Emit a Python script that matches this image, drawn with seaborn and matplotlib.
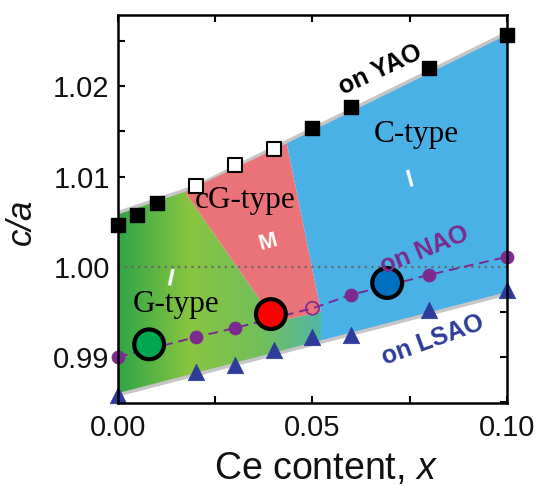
import numpy as np
import pandas as pd
import matplotlib
matplotlib.use("Agg")
import matplotlib.pyplot as plt
import seaborn as sns
from matplotlib.colors import LinearSegmentedColormap
from matplotlib.patches import Polygon
from matplotlib.ticker import MultipleLocator, FormatStrFormatter

# data
x_yao = [0, 0.005, 0.01, 0.05, 0.06, 0.08, 0.10]
ca_yao = [1.0046, 1.0057, 1.0071, 1.0154, 1.0177, 1.0220, 1.0257]
x_yao_open = [0.02, 0.03, 0.04]
ca_yao_open = [1.0089, 1.0113, 1.0131]

x_nao = [0, 0.02, 0.03, 0.04, 0.06, 0.08, 0.10]
ca_nao = [0.9900, 0.9922, 0.9932, 0.9943, 0.9969, 0.9991, 1.0011]
x_nao_open = [0.05]
ca_nao_open = [0.9954]

x_lsao = [0, 0.02, 0.03, 0.04, 0.05, 0.06, 0.08, 0.10]
ca_lsao = [0.9858, 0.9883, 0.9891, 0.9908, 0.9922, 0.9924, 0.9952, 0.9974]

# highlighted samples
sample_names = ["G", "cG", "C"]
x_sample = [0.0080, 0.0393, 0.0692]
ca_sample = [0.9914, 0.99475, 0.9982]
sample_colors = {"G": "#00a650", "cG": "#ff0000", "C": "#0070c0"}

# phase region boundaries
upper_x = [0, 0.02, 0.10]
upper_ca = [1.0058, 1.0087, 1.0257]
lower_x = [0, 0.10]
lower_ca = [0.9860, 0.9972]

sns.set_style("ticks")
plt.rcParams["font.family"] = ["Liberation Sans", "DejaVu Sans"]
plt.rcParams["mathtext.fontset"] = "custom"
plt.rcParams["mathtext.it"] = "Liberation Sans:italic"
plt.rcParams["mathtext.rm"] = "Liberation Sans"
plt.rcParams["text.color"] = "black"

purple = "#7b2b8d"
navy = "#2e3b9a"

fig, ax = plt.subplots(figsize=(5.37, 4.86), dpi=100)
fig.subplots_adjust(left=0.2197, right=0.9441, top=0.9691, bottom=0.1708)

up = lambda x: np.interp(x, upper_x, upper_ca)
lo = lambda x: np.interp(x, lower_x, lower_ca)

# regions
gm_top, gm_bot = (0.0172, up(0.0172)), (0.0404, 0.9939)
mc_top, mc_bot = (0.0434, up(0.0434)), (0.0522, 0.9950)

green_verts = [(0, lo(0)), (0, up(0)), gm_top, gm_bot, mc_bot, (mc_bot[0], lo(mc_bot[0]))]
red_verts = [gm_top, mc_top, mc_bot, gm_bot]
blue_verts = [mc_top, (0.10, up(0.10)), (0.10, lo(0.10)), (mc_bot[0], lo(mc_bot[0])), mc_bot]

green_poly = Polygon(green_verts, closed=True, facecolor="none", edgecolor="none")
ax.add_patch(green_poly)
gcmap = LinearSegmentedColormap.from_list(
    "g", [(0, "#2fa548"), (0.35, "#88c540"), (0.7, "#72bf5a"), (1.0, "#52b6a6")])
im = ax.imshow(np.linspace(0, 1, 256).reshape(1, -1), extent=[0, mc_bot[0], 0.985, 1.01],
               aspect="auto", cmap=gcmap, origin="lower", zorder=1)
im.set_clip_path(green_poly)
ax.add_patch(Polygon(red_verts, closed=True, facecolor="#ea7379", edgecolor="none", zorder=1))
ax.add_patch(Polygon(blue_verts, closed=True, facecolor="#49b1e5", edgecolor="none", zorder=1))

# grey edges
sns.lineplot(x=upper_x, y=upper_ca, color="#c6c6c6", lw=5, ax=ax, zorder=0.5)
sns.lineplot(x=lower_x, y=lower_ca, color="#c6c6c6", lw=5, ax=ax, zorder=0.5)

ax.axhline(1.0, color="#6a6a6a", ls=(0, (1, 2)), lw=1.6, zorder=2)

# NAO dashed line
nao = pd.DataFrame({"x": x_nao + x_nao_open, "ca": ca_nao + ca_nao_open}).sort_values("x")
sns.lineplot(data=nao, x="x", y="ca", color=purple, lw=1.4, ls=(0, (5, 3)), ax=ax, zorder=3)

sns.scatterplot(x=x_yao, y=ca_yao, marker="s", s=115, color="black", edgecolor="black",
                linewidth=1, ax=ax, zorder=4, clip_on=False)
sns.scatterplot(x=x_yao_open, y=ca_yao_open, marker="s", s=110, color="white", edgecolor="black",
                linewidth=1.5, ax=ax, zorder=4, clip_on=False)
sns.scatterplot(x=x_nao, y=ca_nao, marker="o", s=88, color=purple, edgecolor=purple,
                linewidth=0.5, ax=ax, zorder=4, clip_on=False)
sns.scatterplot(x=x_nao_open, y=ca_nao_open, marker="o", s=88, facecolor="none", edgecolor=purple,
                linewidth=1.2, ax=ax, zorder=4, clip_on=False)
sns.scatterplot(x=x_lsao, y=ca_lsao, marker="^", s=140, color=navy, edgecolor=navy,
                linewidth=0.5, ax=ax, zorder=4, clip_on=False)
sns.scatterplot(x=x_sample, y=ca_sample, hue=sample_names, palette=sample_colors, marker="o",
                s=460, edgecolor="black", linewidth=3, legend=False, ax=ax, zorder=5)

# labels in the plot
serif = ["Liberation Serif", "DejaVu Serif"]
ax.text(0.0658, 1.0138, "C-type", family=serif, fontsize=22.5, color="black", zorder=6)
ax.text(0.0198, 1.0065, "cG-type", family=serif, fontsize=22.5, color="black", zorder=6)
ax.text(0.0039, 0.9950, "G-type", family=serif, fontsize=22.5, color="black", zorder=6)
ax.text(0.0751, 1.0096, "I", color="white", fontsize=17, fontweight="bold", rotation=15,
        ha="center", va="center", zorder=6)
ax.text(0.0134, 0.99856, "I", color="white", fontsize=17, fontweight="bold", rotation=-12,
        ha="center", va="center", zorder=6)
ax.text(0.0386, 1.00276, "M", color="white", fontsize=16, fontweight="bold", rotation=15,
        ha="center", va="center", zorder=6)
ax.text(0.0674, 1.0218, "on YAO", color="black", fontsize=18, fontweight="bold", rotation=25,
        ha="center", va="center", zorder=6)
ax.text(0.0789, 1.0019, "on NAO", color=purple, fontsize=18, fontweight="bold", rotation=22,
        ha="center", va="center", zorder=6)
ax.text(0.0810, 0.9919, "on LSAO", color=navy, fontsize=18, fontweight="bold", rotation=20,
        ha="center", va="center", zorder=6)

ax.set_xlim(0, 0.10)
ax.set_ylim(0.9849, 1.0279)
ax.xaxis.set_major_locator(MultipleLocator(0.05))
ax.xaxis.set_minor_locator(MultipleLocator(0.025))
ax.yaxis.set_major_locator(MultipleLocator(0.01))
ax.yaxis.set_minor_locator(MultipleLocator(0.005))
ax.xaxis.set_major_formatter(FormatStrFormatter("%.2f"))
ax.yaxis.set_major_formatter(FormatStrFormatter("%.2f"))
ax.tick_params(which="both", direction="in", top=True, right=True, length=5, width=1.5,
               color="black", labelsize=21, labelcolor="#111111")
ax.tick_params(axis="x", pad=8)
ax.tick_params(axis="y", pad=6)
for s in ax.spines.values():
    s.set_linewidth(1.8)
    s.set_color("black")
    s.set_zorder(7)

ax.set_xlabel("Ce content, $x$", fontsize=27, color="#111111")
ax.set_ylabel("c/a", fontsize=25, fontstyle="italic", color="#111111")
ax.xaxis.set_label_coords(0.535, -0.125)
ax.yaxis.set_label_coords(-0.205, 0.467)

fig.savefig("out.png", dpi=100)
